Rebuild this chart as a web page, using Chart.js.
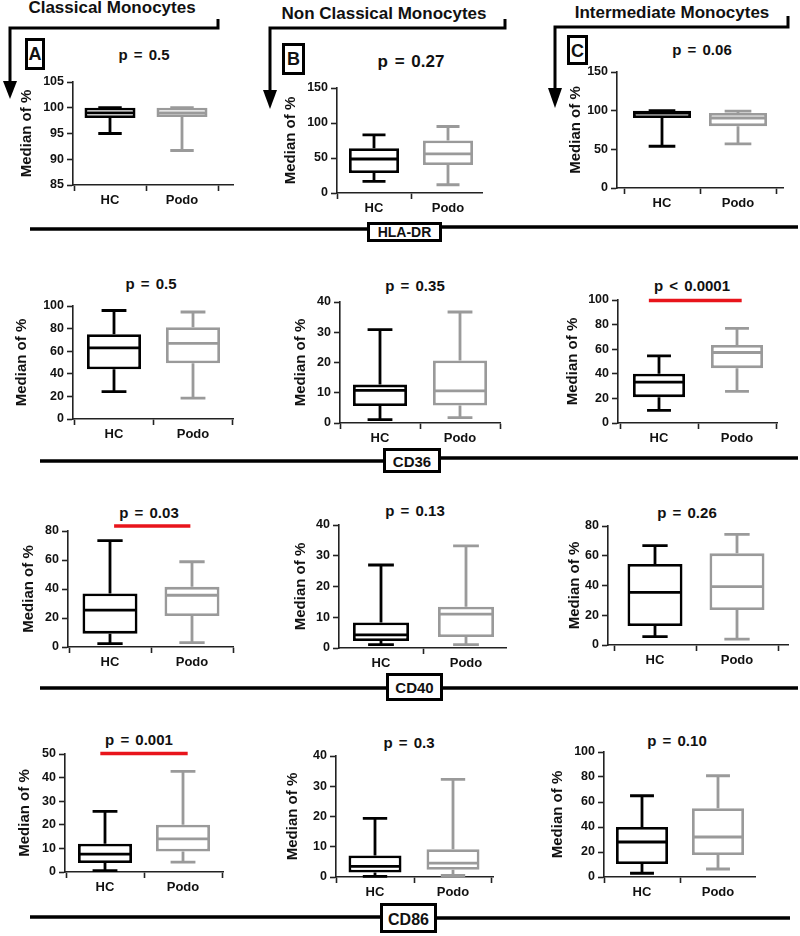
<!DOCTYPE html>
<html>
<head>
<meta charset="utf-8">
<script src="https://cdn.jsdelivr.net/npm/chart.js@4.4.1/dist/chart.umd.min.js"></script>
<style>
  html, body { margin: 0; padding: 0; background: #fff; }
  #page { position: relative; width: 800px; height: 936px; overflow: hidden; font-family: "Liberation Sans", Arial, sans-serif; }
  #page canvas { position: absolute; }
  #deco { position: absolute; left: 0; top: 0; }
  #deco text { font-family: "Liberation Sans", Arial, sans-serif; font-weight: bold; fill: #111; }
</style>
</head>
<body>
<div id="page">
  <svg id="deco" width="800" height="936" xmlns="http://www.w3.org/2000/svg"></svg>
</div>
<script>
// groups and panel labels
const groups = ['HC', 'Podo'];
const subsets = ['Classical Monocytes', 'Non Classical Monocytes', 'Intermediate Monocytes'];
const panelLetters = ['A', 'B', 'C'];
const markers = ['HLA-DR', 'CD36', 'CD40', 'CD86'];

// box stats per group: [min, q1, median, q3, max]
const hlaDrClassical    = [[95, 98, 99, 100, 100], [91.7, 98.2, 99, 100, 100]];
const hlaDrNonClassical = [[16.6, 28.6, 48.6, 64, 83], [11.8, 40, 56, 75, 95]];
const hlaDrIntermediate = [[54, 90.5, 97, 100, 100], [57, 80, 90.5, 97, 99.5]];
const cd36Classical     = [[24.3, 44, 63, 75, 96], [18.5, 49.3, 67, 81.3, 94.7]];
const cd36NonClassical  = [[1.1, 5.6, 10.8, 12.7, 30.9], [1.8, 5.8, 10.6, 20.7, 36.7]];
const cd36Intermediate  = [[10.3, 21, 33.2, 40, 54.6], [25.7, 44.6, 57.3, 63.5, 77]];
const cd40Classical     = [[2.3, 9.2, 25.4, 36.9, 73.3], [3, 21.4, 35.7, 41.5, 58.8]];
const cd40NonClassical  = [[1.1, 2.3, 4.3, 8.3, 27], [1.1, 3.6, 11, 13.4, 33.2]];
const cd40Intermediate  = [[5.6, 12.8, 35.4, 54.5, 66.8], [4, 23.5, 39.2, 61.6, 74.4]];
const cd86Classical     = [[0.6, 3.8, 7.6, 12, 25.7], [4.2, 8.7, 14, 20, 42.6]];
const cd86NonClassical  = [[0.2, 1.5, 3.5, 7.1, 19.4], [0.5, 2.4, 4.6, 9.2, 32.3]];
const cd86Intermediate  = [[3, 10.4, 28, 40, 65], [6.4, 17.6, 32, 55, 81]];

const panelStats = [
  hlaDrClassical, hlaDrNonClassical, hlaDrIntermediate,
  cd36Classical, cd36NonClassical, cd36Intermediate,
  cd40Classical, cd40NonClassical, cd40Intermediate,
  cd86Classical, cd86NonClassical, cd86Intermediate,
];

// y axis [min, max, step]
const yRanges = [
  [85, 105, 5], [0, 150, 50], [0, 150, 50],
  [0, 100, 20], [0, 40, 10], [0, 100, 20],
  [0, 80, 20], [0, 40, 10], [0, 80, 20],
  [0, 50, 10], [0, 40, 10], [0, 100, 20],
];

const pValues = [
  'p = 0.5', 'p = 0.27', 'p = 0.06',
  'p = 0.5', 'p = 0.35', 'p < 0.0001',
  'p = 0.03', 'p = 0.13', 'p = 0.26',
  'p = 0.001', 'p = 0.3', 'p = 0.10',
];

// significance bars: [value, from group pos, to group pos]
const sigLines = [
  null, null, null,
  null, null, [99.5, 0.87, 2.06],
  [83.5, 1.05, 1.98], null, null,
  [50.2, 0.94, 2.06], null, null,
];

const groupColors = ['#000000', '#9a9a9a'];
const axisColor = '#222';
const FONT = '"Liberation Sans", Arial, sans-serif';

// pixel layout of each panel
const panelLayout = [
  { titleX: 27,  axisX: 73,  xEnd: 233, yTop: 82,  yBot: 185, hc: 110, podo: 182, box: 51, pX: 144, pY: 60, pSize: 15 },
  { titleX: 291, axisX: 337, xEnd: 482, yTop: 88,  yBot: 193, hc: 374, podo: 448, box: 50, pX: 411, pY: 67, pSize: 17 },
  { titleX: 576, axisX: 617, xEnd: 783, yTop: 72,  yBot: 188, hc: 662, podo: 738, box: 58, pX: 702, pY: 55, pSize: 15 },
  { titleX: 22,  axisX: 73,  xEnd: 233, yTop: 306, yBot: 419, hc: 114, podo: 193, box: 54, pX: 151, pY: 289, pSize: 15 },
  { titleX: 301, axisX: 340, xEnd: 500, yTop: 302, yBot: 423, hc: 380, podo: 460, box: 54, pX: 415, pY: 291, pSize: 15 },
  { titleX: 573, axisX: 618, xEnd: 777, yTop: 300, yBot: 423, hc: 659, podo: 737, box: 52, pX: 692, pY: 291, pSize: 15 },
  { titleX: 29,  axisX: 68,  xEnd: 233, yTop: 531, yBot: 647, hc: 110, podo: 192, box: 55, pX: 149, pY: 518, pSize: 15 },
  { titleX: 301, axisX: 339, xEnd: 506, yTop: 525, yBot: 648, hc: 381, podo: 466, box: 56, pX: 415, pY: 516, pSize: 15 },
  { titleX: 575, axisX: 608, xEnd: 788, yTop: 526, yBot: 645, hc: 655, podo: 737, box: 55, pX: 687, pY: 518, pSize: 15 },
  { titleX: 25,  axisX: 65,  xEnd: 223, yTop: 754, yBot: 872, hc: 105, podo: 183, box: 54, pX: 139, pY: 745, pSize: 15 },
  { titleX: 293, axisX: 336, xEnd: 493, yTop: 756, yBot: 877, hc: 375, podo: 453, box: 53, pX: 409, pY: 748, pSize: 15 },
  { titleX: 558, axisX: 604, xEnd: 755, yTop: 752, yBot: 877, hc: 642, podo: 718, box: 52, pX: 677, pY: 746, pSize: 15 },
];

// whiskers + median on top of the floating bars
const boxWhiskers = {
  id: 'boxWhiskers',
  afterDatasetsDraw(chart) {
    const { ctx, scales: { y } } = chart;
    const ds = chart.data.datasets[0];
    const meta = chart.getDatasetMeta(0);
    ctx.save();
    ctx.lineWidth = 2.8;
    ds.stats.forEach((s, i) => {
      const bar = meta.data[i];
      const cx = bar.x, half = bar.width / 2, cap = bar.width * 0.23;
      const py = (v) => y.getPixelForValue(v);
      ctx.strokeStyle = groupColors[i];
      ctx.beginPath();
      ctx.moveTo(cx - half + 1, py(s[2])); ctx.lineTo(cx + half - 1, py(s[2]));
      ctx.moveTo(cx, py(s[3])); ctx.lineTo(cx, py(s[4]));
      ctx.moveTo(cx - cap, py(s[4])); ctx.lineTo(cx + cap, py(s[4]));
      ctx.moveTo(cx, py(s[1])); ctx.lineTo(cx, py(s[0]));
      ctx.moveTo(cx - cap, py(s[0])); ctx.lineTo(cx + cap, py(s[0]));
      ctx.stroke();
    });
    ctx.restore();
  },
};

const page = document.getElementById('page');

function makePanel(i) {
  const L = panelLayout[i];
  const stats = panelStats[i];
  const [yMin, yMax, yStep] = yRanges[i];
  const left = L.titleX - 9;
  const top = L.yTop - 12;
  const width = L.xEnd - left + 4;
  const height = L.yBot - top + 30;

  const canvas = document.createElement('canvas');
  canvas.width = width;
  canvas.height = height;
  canvas.style.left = left + 'px';
  canvas.style.top = top + 'px';
  page.appendChild(canvas);

  const fH = (L.hc - L.axisX) / (L.xEnd - L.axisX);
  const fP = (L.podo - L.axisX) / (L.xEnd - L.axisX);
  const span = 1 / (fP - fH);
  const xMin = 1 - fH * span;

  const datasets = [{
    type: 'bar',
    data: stats.map((s, k) => ({ x: k + 1, y: [s[1], s[3]] })),
    stats,
    backgroundColor: '#ffffff',
    borderColor: groupColors,
    borderWidth: 2.8,
    borderSkipped: false,
    inflateAmount: 0,
    barThickness: L.box,
  }];
  const sig = sigLines[i];
  if (sig) {
    datasets.push({
      type: 'line',
      data: [{ x: sig[1], y: sig[0] }, { x: sig[2], y: sig[0] }],
      borderColor: '#e8141b',
      borderWidth: 3.5,
      pointRadius: 0,
      clip: false,
    });
  }

  const tickGrid = { display: true, drawOnChartArea: false, drawTicks: true, tickLength: 6, tickColor: axisColor, tickWidth: 1.6 };

  return new Chart(canvas, {
    type: 'bar',
    data: { datasets },
    plugins: [boxWhiskers],
    options: {
      responsive: false,
      animation: false,
      devicePixelRatio: 1,
      layout: { padding: { top: 12, right: 4, bottom: 0, left: 0 } },
      plugins: { legend: { display: false }, tooltip: { enabled: false } },
      scales: {
        x: {
          type: 'linear',
          min: xMin,
          max: xMin + span,
          offset: false,
          afterBuildTicks: (s) => { s.ticks = [{ value: 1 }, { value: 2 }]; },
          afterFit: (s) => { s.height = 30; },
          ticks: {
            callback: (v, idx) => groups[idx],
            color: '#111', font: { family: FONT, size: 13, weight: 'bold' },
            padding: 2, maxRotation: 0, autoSkip: false,
          },
          grid: tickGrid,
          border: { display: true, color: axisColor, width: 1.6 },
        },
        y: {
          min: yMin,
          max: yMax,
          afterFit: (s) => { s.width = L.axisX - left; },
          ticks: { stepSize: yStep, color: '#111', font: { family: FONT, size: 12.5, weight: 'bold' }, padding: 3 },
          grid: tickGrid,
          border: { display: true, color: axisColor, width: 1.6 },
          title: {
            display: true, text: 'Median of %', color: '#111',
            font: { family: FONT, size: 15, weight: 'bold' }, padding: { top: 0, bottom: 0 },
          },
        },
      },
    },
  });
}

panelLayout.forEach((_, i) => makePanel(i));

// decorations: headers, arrows, panel letters, marker bars, p-values
const svg = document.getElementById('deco');
const NS = 'http://www.w3.org/2000/svg';
function el(tag, attrs, text) {
  const e = document.createElementNS(NS, tag);
  Object.entries(attrs).forEach(([k, v]) => e.setAttribute(k, v));
  if (text !== undefined) e.textContent = text;
  svg.appendChild(e);
  return e;
}

const headerPos = [[112, 13], [384, 19], [672, 18]];
subsets.forEach((t, i) => el('text', { x: headerPos[i][0], y: headerPos[i][1], 'text-anchor': 'middle', 'font-size': 17 }, t));

const arrowPaths = [
  { d: 'M218 19 V28 H10 V84', head: '3,81 17,81 10,99' },
  { d: 'M505 19 V28 H270 V93', head: '263,90 277,90 270,109' },
  { d: 'M788 16 V27 H555 V91', head: '548,88 562,88 555,108' },
];
arrowPaths.forEach((a) => {
  el('path', { d: a.d, fill: 'none', stroke: '#000', 'stroke-width': 3 });
  el('polygon', { points: a.head, fill: '#000' });
});

const letterBoxes = [
  { x: 26.5, y: 39.5, w: 17, h: 29, ty: 60 },
  { x: 283.5, y: 44.5, w: 20, h: 29, ty: 65 },
  { x: 568.5, y: 36.5, w: 18, h: 27, ty: 57 },
];
panelLetters.forEach((t, i) => {
  const b = letterBoxes[i];
  el('rect', { x: b.x, y: b.y, width: b.w, height: b.h, fill: '#fff', stroke: '#000', 'stroke-width': 3 });
  el('text', { x: b.x + b.w / 2, y: b.ty, 'text-anchor': 'middle', 'font-size': 18 }, t);
});

const markerBars = [
  { l: [30, 367, 229], r: [442, 798, 227], box: [368.5, 223.5, 72, 17], ty: 237, size: 14 },
  { l: [40, 384, 461], r: [441, 798, 458], box: [384.5, 449.5, 55, 22], ty: 467, size: 15 },
  { l: [40, 387, 688], r: [443, 798, 688], box: [387.5, 674.5, 54, 25], ty: 693, size: 15 },
  { l: [30, 381, 917], r: [437, 790, 918], box: [381.5, 904.5, 54, 27], ty: 925, size: 16 },
];
markers.forEach((t, i) => {
  const m = markerBars[i];
  el('line', { x1: m.l[0], x2: m.l[1], y1: m.l[2], y2: m.l[2], stroke: '#000', 'stroke-width': 3.5 });
  el('line', { x1: m.r[0], x2: m.r[1], y1: m.r[2], y2: m.r[2], stroke: '#000', 'stroke-width': 3.5 });
  el('rect', { x: m.box[0], y: m.box[1], width: m.box[2], height: m.box[3], fill: '#fff', stroke: '#000', 'stroke-width': 3 });
  el('text', { x: m.box[0] + m.box[2] / 2, y: m.ty, 'text-anchor': 'middle', 'font-size': m.size }, t);
});

pValues.forEach((t, i) => {
  const L = panelLayout[i];
  el('text', { x: L.pX, y: L.pY, 'text-anchor': 'middle', 'font-size': L.pSize, 'xml:space': 'preserve', 'word-spacing': 2 }, t);
});
</script>
</body>
</html>
